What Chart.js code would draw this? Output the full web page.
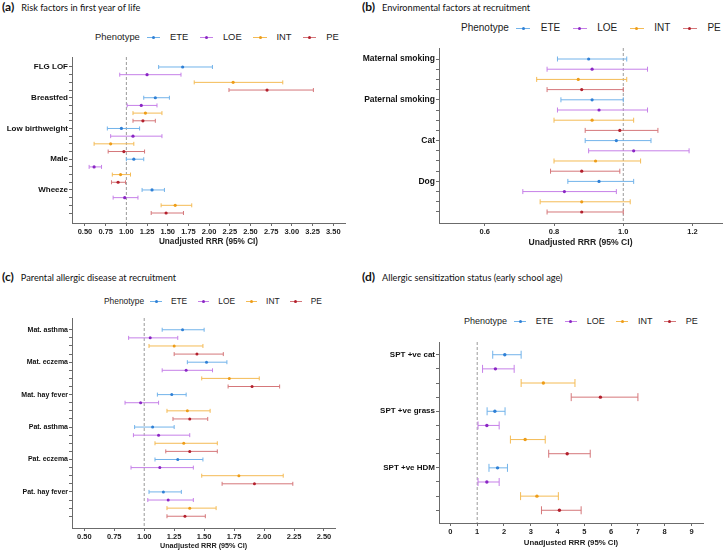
<!DOCTYPE html>
<html>
<head>
<meta charset="utf-8">
<script src="https://cdn.jsdelivr.net/npm/chart.js@4.4.0/dist/chart.umd.min.js"></script>
<style>
  body { margin: 0; background: #fff; width: 727px; height: 551px; position: relative; overflow: hidden;
         font-family: "Liberation Sans", Arial, sans-serif; }
  .ptitle { position: absolute; font-family: Lato, sans-serif; font-size: 9.2px; white-space: nowrap; line-height: 12px; color: #111; }
  .ptitle b { font-size: 12px; margin-right: 7px; }
  .legend { position: absolute; display: flex; align-items: center; white-space: nowrap; line-height: 1; color: #222; }
  .sym { display: inline-block; width: 1.4em; height: 1px; position: relative; margin: 0 1.05em 0 1.25em; }
  .sym.first { margin-left: 0.75em; }
  .sym i { position: absolute; left: calc(50% - 1.5px); top: -1px; width: 3px; height: 3px; border-radius: 50%; }
  canvas { position: absolute; }
</style>
</head>
<body>

<div class="ptitle" style="left:2px;top:1px"><b>(a)</b>Risk factors in first year of life</div>
<div class="ptitle" style="left:362px;top:1px"><b>(b)</b>Environmental factors at recruitment</div>
<div class="ptitle" style="left:2px;top:271px"><b>(c)</b>Parental allergic disease at recruitment</div>
<div class="ptitle" style="left:362px;top:271px"><b>(d)</b>Allergic sensitization status (early school age)</div>

<canvas id="chartA" width="360" height="205" style="left:0;top:45px"></canvas>
<canvas id="chartB" width="367" height="212" style="left:360px;top:38px"></canvas>
<canvas id="chartC" width="360" height="243" style="left:0;top:308px"></canvas>
<canvas id="chartD" width="367" height="221" style="left:360px;top:330px"></canvas>

<script>
// phenotypes and colours (whisker colour, point colour)
const phenotypes = ['ETE', 'LOE', 'INT', 'PE'];
const lineColors = ['#72b3ea', '#c680e8', '#f4bb55', '#d5777a'];
const pointColors = ['#2f80d6', '#8a26c4', '#ee9d18', '#b3202d'];

// (a) risk factors in first year of life: [RRR, lower CI, upper CI]
const riskFactors = ['FLG LOF', 'Breastfed', 'Low birthweight', 'Male', 'Wheeze'];
const riskETE = [[1.68, 1.39, 2.04], [1.35, 1.21, 1.52], [0.94, 0.77, 1.16], [1.09, 1.00, 1.21], [1.31, 1.19, 1.46]];
const riskLOE = [[1.25, 0.92, 1.66], [1.18, 1.01, 1.37], [1.08, 0.81, 1.43], [0.61, 0.55, 0.70], [0.98, 0.84, 1.14]];
const riskINT = [[2.29, 1.82, 2.89], [1.23, 1.08, 1.43], [0.81, 0.61, 1.09], [0.93, 0.83, 1.05], [1.59, 1.42, 1.79]];
const riskPE  = [[2.70, 2.24, 3.26], [1.20, 1.08, 1.35], [0.97, 0.78, 1.22], [0.90, 0.82, 0.99], [1.48, 1.30, 1.69]];
const riskTicks = [0.5, 0.75, 1.0, 1.25, 1.5, 1.75, 2.0, 2.25, 2.5, 2.75, 3.0, 3.25, 3.5];

// (b) environmental factors at recruitment
const envFactors = ['Maternal smoking', 'Paternal smoking', 'Cat', 'Dog'];
const envETE = [[0.90, 0.81, 1.01], [0.91, 0.82, 1.00], [0.98, 0.89, 1.08], [0.93, 0.84, 1.03]];
const envLOE = [[0.91, 0.78, 1.07], [0.93, 0.81, 1.07], [1.03, 0.90, 1.19], [0.83, 0.71, 0.98]];
const envINT = [[0.87, 0.75, 1.01], [0.91, 0.80, 1.03], [0.92, 0.80, 1.05], [0.88, 0.76, 1.02]];
const envPE  = [[0.88, 0.78, 1.00], [0.99, 0.89, 1.10], [0.88, 0.79, 0.99], [0.88, 0.78, 1.00]];
const envTicks = [0.6, 0.8, 1.0, 1.2];

// (c) parental allergic disease at recruitment
const parentFactors = ['Mat. asthma', 'Mat. eczema', 'Mat. hay fever', 'Pat. asthma', 'Pat. eczema', 'Pat. hay fever'];
const parentETE = [[1.32, 1.15, 1.50], [1.52, 1.36, 1.69], [1.23, 1.11, 1.35], [1.07, 0.92, 1.25], [1.28, 1.09, 1.49], [1.16, 1.04, 1.31]];
const parentLOE = [[1.05, 0.87, 1.28], [1.35, 1.15, 1.57], [0.97, 0.84, 1.12], [1.12, 0.91, 1.38], [1.13, 0.89, 1.41], [1.20, 1.03, 1.41]];
const parentINT = [[1.25, 1.04, 1.49], [1.71, 1.48, 1.96], [1.36, 1.19, 1.55], [1.33, 1.09, 1.61], [1.79, 1.48, 2.16], [1.38, 1.19, 1.60]];
const parentPE  = [[1.44, 1.25, 1.66], [1.90, 1.70, 2.13], [1.38, 1.24, 1.53], [1.38, 1.18, 1.61], [1.92, 1.65, 2.24], [1.34, 1.19, 1.51]];
const parentTicks = [0.5, 0.75, 1.0, 1.25, 1.5, 1.75, 2.0, 2.25, 2.5];

// (d) allergic sensitization status
const sptFactors = ['SPT +ve cat', 'SPT +ve grass', 'SPT +ve HDM'];
const sptETE = [[2.03, 1.58, 2.64], [1.66, 1.37, 2.04], [1.76, 1.44, 2.13]];
const sptLOE = [[1.68, 1.20, 2.38], [1.36, 1.03, 1.82], [1.36, 1.03, 1.82]];
const sptINT = [[3.47, 2.64, 4.65], [2.79, 2.24, 3.54], [3.23, 2.62, 4.03]];
const sptPE  = [[5.60, 4.51, 7.00], [4.36, 3.67, 5.22], [4.07, 3.40, 4.88]];
const sptTicks = [0, 1, 2, 3, 4, 5, 6, 7, 8, 9];

const FONT = "'Liberation Sans', Arial, sans-serif";
const AXIS = '#6b6b6b';

function addLegend(left, cy, size) {
    const div = document.createElement('div');
    div.className = 'legend';
    div.style.left = left + 'px';
    div.style.top = (cy - size / 2) + 'px';
    div.style.fontSize = size + 'px';
    let html = '<span>Phenotype</span>';
    phenotypes.forEach((p, i) => {
        html += `<span class="sym${i === 0 ? ' first' : ''}" style="background:${lineColors[i]}"><i style="background:${pointColors[i]}"></i></span><span>${p}</span>`;
    });
    div.innerHTML = html;
    document.body.appendChild(div);
}

function makePanel(id, cfg) {
    const n = cfg.groups.length * 4;
    const datasets = [];

    // point estimates, one dataset per phenotype
    cfg.series.forEach((rows, s) => {
        datasets.push({
            data: rows.map((r, g) => ({ x: r[0], y: g * 4 + s })),
            pointRadius: cfg.dot,
            pointBackgroundColor: pointColors[s],
            pointBorderWidth: 0,
            order: 0
        });
    });

    // confidence intervals, one line per row with vertical end caps
    cfg.series.forEach((rows, s) => {
        rows.forEach((r, g) => {
            datasets.push({
                data: [{ x: r[1], y: g * 4 + s }, { x: r[2], y: g * 4 + s }],
                showLine: true,
                borderColor: lineColors[s],
                borderWidth: 1,
                pointStyle: 'line',
                rotation: 90,
                pointRadius: cfg.cap,
                pointBorderColor: lineColors[s],
                pointBorderWidth: 1,
                order: 1
            });
        });
    });

    // reference line at RRR = 1
    datasets.push({
        data: [{ x: 1, y: cfg.yMin }, { x: 1, y: cfg.yMax }],
        showLine: true,
        borderColor: '#9a9a9a',
        borderWidth: 1,
        borderDash: [3, 2],
        pointRadius: 0,
        order: 2
    });

    return new Chart(document.getElementById(id), {
        type: 'scatter',
        data: { datasets: datasets },
        options: {
            responsive: false,
            animation: false,
            layout: { padding: { left: 0, right: cfg.padRight, top: cfg.padTop, bottom: 0 } },
            plugins: { legend: { display: false }, tooltip: { enabled: false } },
            scales: {
                x: {
                    type: 'linear',
                    min: cfg.xMin,
                    max: cfg.xMax,
                    afterBuildTicks: sc => { sc.ticks = cfg.ticks.map(v => ({ value: v })); },
                    afterFit: sc => { sc.height = cfg.xHeight; },
                    ticks: {
                        autoSkip: false, maxRotation: 0, padding: 1,
                        color: '#222',
                        font: { family: FONT, size: cfg.tickSize, weight: 'bold' },
                        callback: v => v.toFixed(cfg.decimals)
                    },
                    grid: { drawOnChartArea: false, tickLength: 3, color: AXIS },
                    border: { color: AXIS, width: 1 },
                    title: {
                        display: true,
                        text: 'Unadjusted RRR (95% CI)',
                        color: '#222',
                        font: { family: FONT, size: cfg.titleSize, weight: 'bold' },
                        padding: { top: 0, bottom: cfg.titlePad }
                    }
                },
                y: {
                    type: 'linear',
                    reverse: true,
                    min: cfg.yMin,
                    max: cfg.yMax,
                    afterBuildTicks: sc => {
                        sc.ticks = Array.from({ length: n }, (_, i) => ({ value: i }));
                    },
                    afterFit: sc => { sc.width = cfg.yWidth; },
                    ticks: {
                        autoSkip: false, padding: 1,
                        color: '#111',
                        font: { family: FONT, size: cfg.labelSize, weight: 'bold' },
                        callback: v => (v % 4 === 0 ? cfg.groups[v / 4] : '')
                    },
                    grid: { drawOnChartArea: false, tickLength: 3, color: AXIS },
                    border: { color: AXIS, width: 1 }
                }
            }
        }
    });
}

makePanel('chartA', {
    groups: riskFactors, series: [riskETE, riskLOE, riskINT, riskPE], ticks: riskTicks, decimals: 2,
    xMin: 0.343, xMax: 3.642, yMin: -1.3, yMax: 20.3,
    padTop: 12, padRight: 15, yWidth: 72, xHeight: 27, titlePad: 3,
    tickSize: 7.5, labelSize: 8, titleSize: 8.2, cap: 2, dot: 1.6
});
makePanel('chartB', {
    groups: envFactors, series: [envETE, envLOE, envINT, envPE], ticks: envTicks, decimals: 1,
    xMin: 0.468, xMax: 1.285, yMin: -1.08, yMax: 16.08,
    padTop: 10, padRight: 4, yWidth: 79, xHeight: 27, titlePad: 2,
    tickSize: 7.5, labelSize: 8.5, titleSize: 8.6, cap: 2.5, dot: 1.6
});
makePanel('chartC', {
    groups: parentFactors, series: [parentETE, parentLOE, parentINT, parentPE], ticks: parentTicks, decimals: 2,
    xMin: 0.3975, xMax: 2.592, yMin: -1.45, yMax: 24.45,
    padTop: 10, padRight: 25, yWidth: 72, xHeight: 23, titlePad: 1,
    tickSize: 7.5, labelSize: 7, titleSize: 7.2, cap: 2, dot: 1.5
});
makePanel('chartD', {
    groups: sptFactors, series: [sptETE, sptLOE, sptINT, sptPE], ticks: sptTicks, decimals: 0,
    xMin: -0.426, xMax: 9.43, yMin: -0.9, yMax: 11.9,
    padTop: 12, padRight: 24, yWidth: 79, xHeight: 28, titlePad: 3,
    tickSize: 7.5, labelSize: 8, titleSize: 7.8, cap: 4, dot: 1.7
});

addLegend(95, 37, 9.4);
addLegend(461, 28, 10);
addLegend(104, 301, 8.4);
addLegend(464, 321, 9);
</script>
</body>
</html>
